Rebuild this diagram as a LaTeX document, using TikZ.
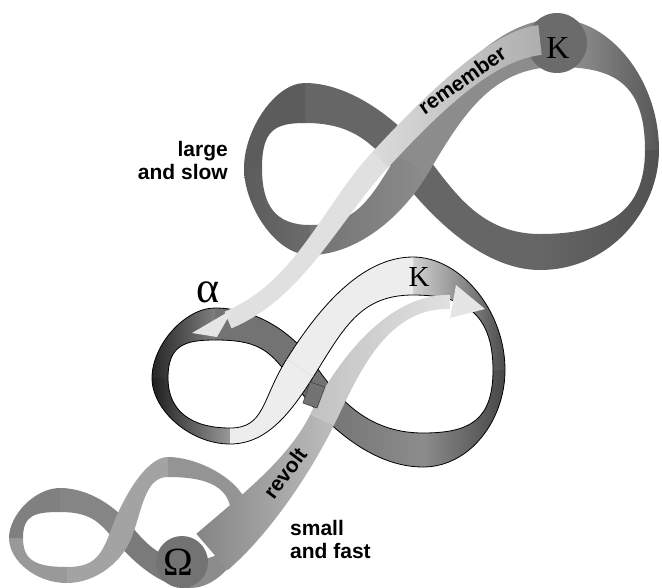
\documentclass[tikz,border=0pt]{standalone}
\usepackage{fontspec}
\setsansfont{Liberation Sans}
\newfontfamily\grk{Liberation Serif}
\usetikzlibrary{calc}

% one cubic piece of a band: fill style, edge style, start, controls, end, half widths
\newcommand{\bandpiece}[8]{%
  \coordinate (ua) at ($#3!#7pt!90:#4$);
  \coordinate (ub) at ($#3!#7pt!-90:#4$);
  \coordinate (va) at ($#6!#8pt!-90:#5$);
  \coordinate (vb) at ($#6!#8pt!90:#5$);
  \coordinate (ca) at ($#4+(ua)-#3$);
  \coordinate (cb) at ($#4+(ub)-#3$);
  \coordinate (da) at ($#5+(va)-#6$);
  \coordinate (db) at ($#5+(vb)-#6$);
  \path[#1] (ua) .. controls (ca) and (da) .. (va) -- (vb) .. controls (db) and (cb) .. (ub) -- cycle;
  \path[#2] (ua) .. controls (ca) and (da) .. (va) (ub) .. controls (cb) and (db) .. (vb);
}

\tikzset{
  tag/.style={font=\sffamily\bfseries\fontsize{21}{23}\selectfont, inner sep=0pt},
  sym/.style={font=\grk\fontsize{#1}{#1}\selectfont, inner sep=0pt},
  rim/.style={draw=black, line width=0.8pt},
  bare/.style={}
}

\begin{document}
\begin{tikzpicture}[x=1pt,y=-1pt]
\useasboundingbox (0,0) rectangle (662,587);

% large and slow
\bandpiece{fill=black!60}{bare}{(305,103)}{(350,103)}{(385,130)}{(412,165)}{20}{17}
\bandpiece{fill=black!60}{bare}{(412,165)}{(440,201)}{(480,252)}{(540,252)}{17}{18}
\bandpiece{left color=black!60,right color=black!68}{bare}{(540,252)}{(610,252)}{(652,210)}{(652,150)}{18}{7}
\bandpiece{left color=black!40,right color=black!66}{bare}{(652,150)}{(652,80)}{(610,43)}{(557,43)}{7}{24}
\bandpiece{fill=black!64}{bare}{(253,168)}{(253,130)}{(275,103)}{(305,103)}{9}{20}
\bandpiece{left color=black!64,right color=black!58}{bare}{(310,240)}{(275,240)}{(253,205)}{(253,168)}{15}{9}
\bandpiece{fill=black!45}{bare}{(557,43)}{(490,43)}{(445,110)}{(412,165)}{24}{18}
\bandpiece{left color=black!55,right color=black!45}{bare}{(412,165)}{(385,210)}{(355,240)}{(310,240)}{18}{15}
\fill[black!58] (557,43) circle (30);

% middle band
\bandpiece{fill=black!55}{rim}{(215,324)}{(255,324)}{(280,340)}{(300,368)}{16}{14}
\bandpiece{left color=black!58,right color=black!45}{rim}{(300,368)}{(320,396)}{(360,450)}{(423,450)}{14}{17}
\bandpiece{left color=black!45,right color=black!72}{rim}{(423,450)}{(470,450)}{(499,420)}{(499,370)}{17}{6}
\bandpiece{left color=black!18,right color=black!70}{rim}{(499,370)}{(499,310)}{(460,276)}{(413,276)}{6}{19}
\bandpiece{left color=black!88,right color=black!40}{rim}{(230,436)}{(190,436)}{(160,410)}{(160,378)}{8}{8}
\bandpiece{left color=black!85,right color=black!50}{rim}{(160,378)}{(160,345)}{(185,324)}{(215,324)}{8}{16}
\bandpiece{fill=black!7}{rim}{(413,276)}{(360,276)}{(330,320)}{(300,368)}{19}{16}
\bandpiece{fill=black!7}{rim}{(300,368)}{(275,408)}{(265,436)}{(230,436)}{16}{8}

% small and fast
\bandpiece{fill=black!48}{bare}{(60,500)}{(90,500)}{(108,515)}{(122,532)}{12}{11}
\bandpiece{fill=black!52}{bare}{(122,532)}{(138,551)}{(160,574)}{(190,574)}{11}{14}
\bandpiece{fill=black!45}{bare}{(190,574)}{(222,574)}{(240,548)}{(240,515)}{14}{9}
\bandpiece{fill=black!42}{bare}{(240,515)}{(240,483)}{(200,467)}{(168,467)}{9}{10}
\bandpiece{fill=black!40}{bare}{(67,575)}{(35,575)}{(16,560)}{(16,538)}{8}{7}
\bandpiece{fill=black!50}{bare}{(16,538)}{(16,515)}{(35,500)}{(60,500)}{7}{12}
\bandpiece{fill=black!36}{bare}{(168,467)}{(145,467)}{(132,505)}{(122,532)}{10}{11}
\bandpiece{fill=black!36}{bare}{(122,532)}{(112,559)}{(95,575)}{(67,575)}{11}{8}

% remember
\bandpiece{left color=black!14,right color=black!32}{bare}{(540,40)}{(495,45)}{(440,95)}{(380,160)}{15}{11}
\bandpiece{fill=black!12}{bare}{(380,160)}{(330,214)}{(300,290)}{(228,320)}{11}{9}
\fill[black!10] (233,309) -- (192,333) -- (217,337) -- cycle;

% revolt
\bandpiece{left color=black!48,right color=black!26}{bare}{(212,552)}{(255,515)}{(300,465)}{(322,420)}{24}{13}
\bandpiece{left color=black!24,right color=black!12}{bare}{(322,420)}{(345,373)}{(385,300)}{(450,302)}{13}{7}
\fill[black!10] (456,285) -- (485,309) -- (450,318) -- cycle;
\filldraw[fill=black!55, draw=black!75, line width=0.6pt] (310,382) -- (325,387) -- (317,408) -- (303,403) -- cycle;
\fill[black!55] (182,562) circle (26);

\node[sym=32] (Ktop) at (558,48) {K};
\node[sym=29] (Kmid) at (419,277) {K};
\node[sym=44] (alpha) at (208,292) {α};
\node[sym=40] (omega) at (178,562) {Ω};
\node[tag, anchor=east, align=right] (big) at (228,160) {large\\and slow};
\node[tag, anchor=west, align=left] (small) at (290,539) {small\\and fast};
\node[tag, rotate=35] (remember) at (462,80) {remember};
\node[tag, rotate=53] (revolt) at (285,473) {revolt};
\end{tikzpicture}
\end{document}
